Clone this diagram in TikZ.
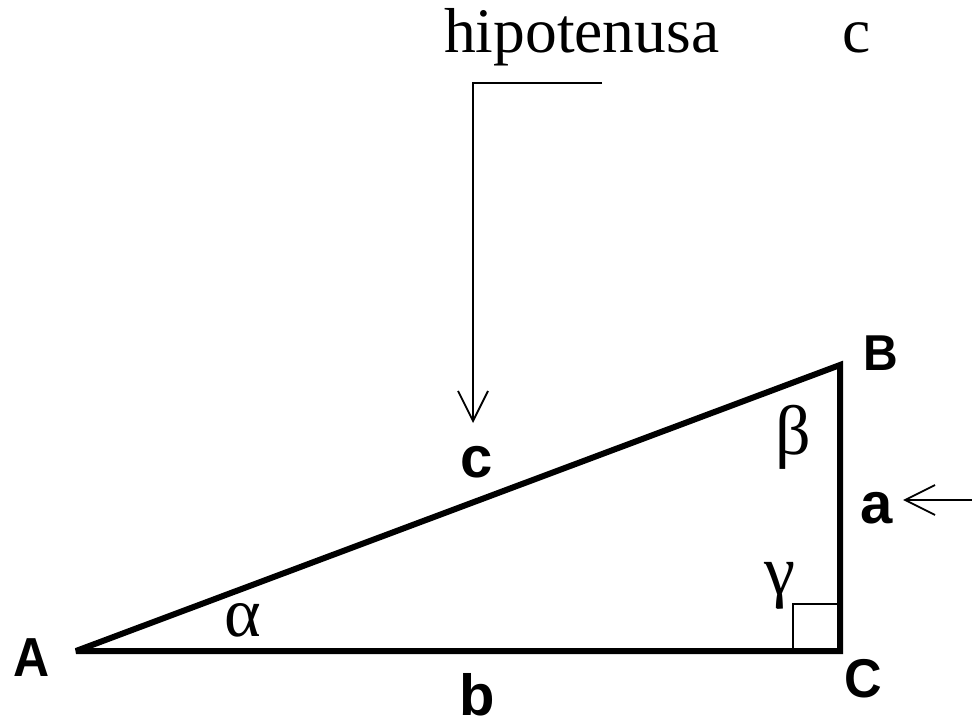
\documentclass[tikz,border=0pt]{standalone}
\usepackage{fontspec}
\setmainfont{Liberation Serif}
\newfontfamily\labfont{Liberation Sans}
\usetikzlibrary{arrows.meta}
\newcommand{\fsz}[1]{\fontsize{#1}{#1}\selectfont}
\begin{document}
\begin{tikzpicture}[x=1pt,y=-1pt,
  side/.style={line width=6pt,line join=miter,miter limit=2},
  pointer/.style={line width=1.8pt,-{Straight Barb[length=30pt,width=30pt,line width=1.8pt]}},
  lab/.style={font=\labfont\bfseries,inner sep=0pt},
  greek/.style={font=\fsz{70},inner sep=0pt},
  title/.style={font=\fsz{63.5},inner sep=0pt,anchor=base west}]
\useasboundingbox (0,0) rectangle (972,719);
% vertices
\coordinate (A) at (76,651);
\coordinate (C) at (840,651);
\coordinate (B) at (840,365);
\draw[side] (A) -- (C) -- (B) -- cycle;
% right angle mark
\draw[line width=2pt] (793,651) |- (840,604);
% vertex labels
\node[lab,font=\labfont\bfseries\fsz{50},yscale=1.1] (lA) at (32,657.5) {A};
\node[lab,font=\labfont\bfseries\fsz{48},yscale=1.05] (lB) at (880.5,353) {B};
\node[lab,font=\labfont\bfseries\fsz{52},yscale=1.05] (lC) at (863.5,678.5) {C};
% side labels
\node[lab,font=\labfont\bfseries\fsz{58}] (lc) at (476.5,462) {c};
\node[lab,font=\labfont\bfseries\fsz{58}] (la) at (877,508.5) {a};
\node[lab,font=\labfont\bfseries\fsz{58}] (lb) at (477.5,694.5) {b};
% angles
\node[greek] (al) at (242.5,620) {α};
\node[greek] (be) at (793.5,437.5) {β};
\node[greek] (ga) at (780,586) {γ};
% title texts
\node[title] (hip) at (444,53) {hipotenusa};
\node[title] (tc) at (842,53) {c};
% pointers
\coordinate (p1) at (602,83);
\coordinate (p2) at (473,83);
\coordinate (p3) at (473,423);
\draw[pointer] (p1) -- (p2) -- (p3);
\coordinate (q1) at (972,500);
\coordinate (q2) at (903,500);
\draw[pointer] (q1) -- (q2);
\end{tikzpicture}
\end{document}
